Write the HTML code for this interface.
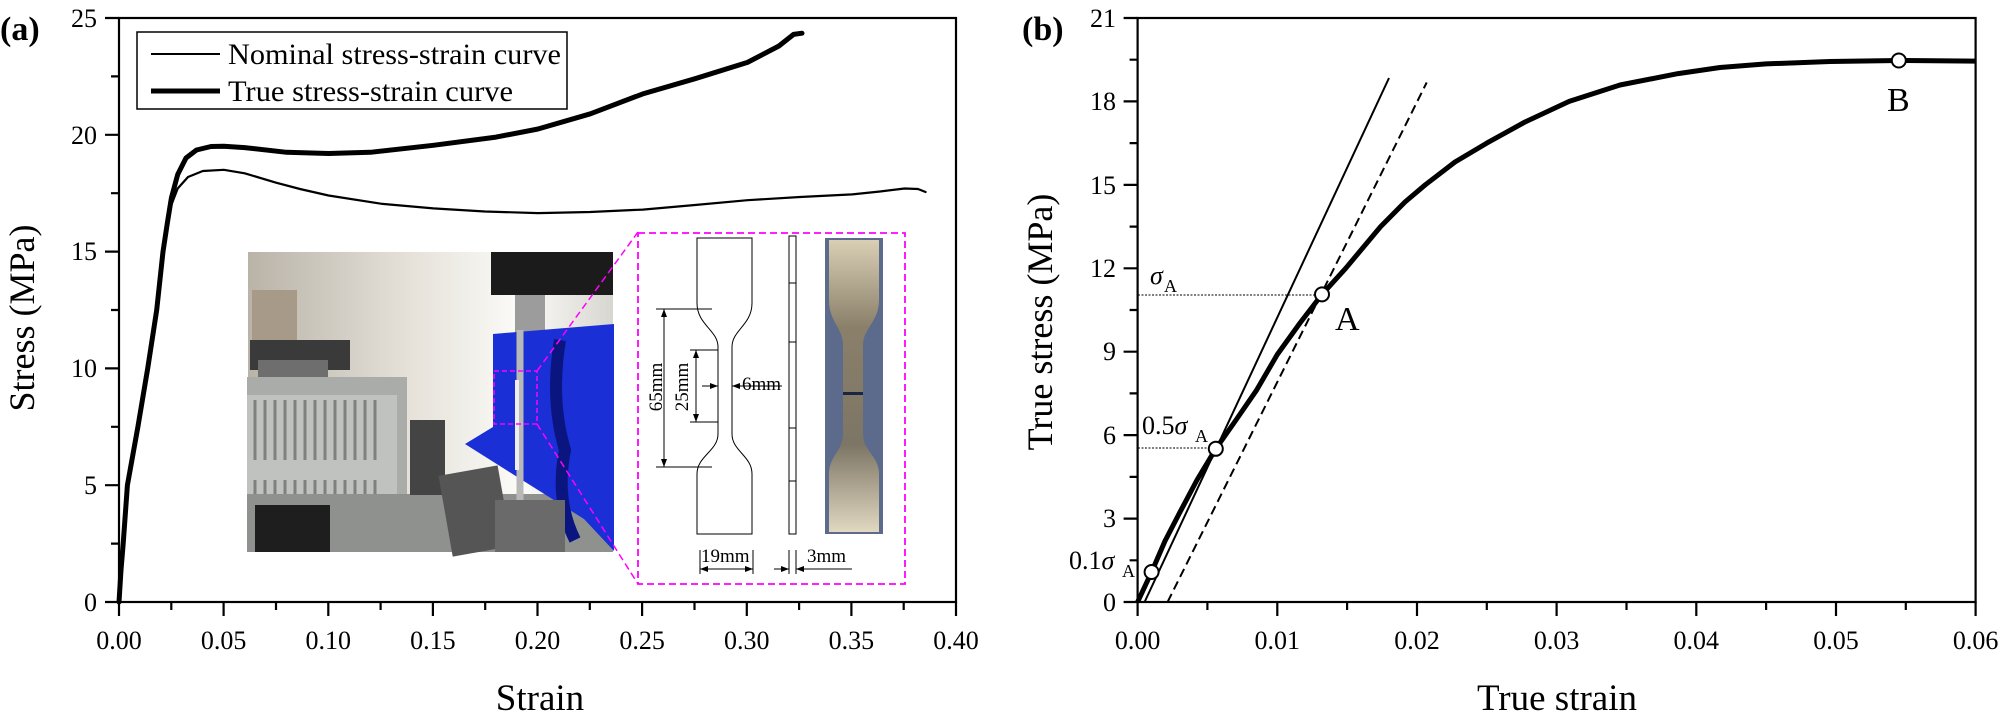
<!DOCTYPE html>
<html><head><meta charset="utf-8"><style>
html,body{margin:0;padding:0;background:#fff}
svg{display:block}
text{font-family:"Liberation Serif",serif;fill:#000}
</style></head><body>
<svg width="2001" height="722" viewBox="0 0 2001 722" xmlns="http://www.w3.org/2000/svg">
<defs>
<linearGradient id="wall" x1="0" y1="0" x2="1" y2="0">
<stop offset="0" stop-color="#b9b3a8"/><stop offset="0.45" stop-color="#e6e2da"/><stop offset="0.75" stop-color="#fbfbf8"/><stop offset="1" stop-color="#d8d6d0"/></linearGradient>
<linearGradient id="spec" x1="0" y1="0" x2="0" y2="1">
<stop offset="0" stop-color="#d8cfb5"/><stop offset="0.3" stop-color="#8a806a"/><stop offset="0.7" stop-color="#7d7565"/><stop offset="1" stop-color="#e0d8c0"/></linearGradient>
</defs>

<!-- ============ PANEL A ============ -->
<text x="0" y="40" font-size="34" font-weight="bold">(a)</text>
<g>
<rect x="248" y="252" width="365" height="300" fill="url(#wall)"/>
<rect x="252" y="290" width="45" height="60" fill="#a89a88"/>
<rect x="250" y="340" width="100" height="30" fill="#3a3a3a"/>
<rect x="258" y="360" width="70" height="20" fill="#6e6e6e"/>
<rect x="247" y="377" width="160" height="175" fill="#a9aca9"/>
<rect x="247" y="395" width="150" height="130" fill="#bfc2bf"/>
<g stroke="#7e817e" stroke-width="3">
<path d="M255 400v60M265 400v60M275 400v60M285 400v60M295 400v60M305 400v60M315 400v60M325 400v60M335 400v60M345 400v60M355 400v60M365 400v60M375 400v60"/>
<path d="M255 480v40M265 480v40M275 480v40M285 480v40M295 480v40M305 480v40M315 480v40M325 480v40M335 480v40M345 480v40M355 480v40M365 480v40M375 480v40"/>
</g>
<rect x="247" y="494" width="366" height="58" fill="#8f918f"/>
<rect x="255" y="505" width="75" height="47" fill="#1e1e1e"/>
<rect x="410" y="420" width="35" height="75" fill="#444"/>
<rect x="445" y="470" width="60" height="82" fill="#555" transform="rotate(-10 475 510)"/>
<rect x="491" y="252" width="122" height="43" fill="#1b1b1b"/>
<rect x="515" y="295" width="30" height="40" fill="#9c9c9c"/>
<polygon points="493,334 614,324 614,551 584,519 465,444 493,427" fill="#1a2fd6"/>
<path d="M560 340 Q550 400 565 450 Q555 500 575 540" stroke="#0b1580" stroke-width="12" fill="none"/>
<path d="M520 330 L520 550" stroke="#b8b8b8" stroke-width="7"/>
<path d="M517 380 L517 470" stroke="#eee" stroke-width="4"/>
<rect x="495" y="500" width="70" height="52" fill="#6a6a6a"/>
<rect x="494" y="371" width="43" height="53" fill="none" stroke="#ff00ff" stroke-width="1.5" stroke-dasharray="5,3"/>
</g>
<path d="M537 371 L638 232 M537 424 L638 584" stroke="#ff00ff" stroke-width="1.5" stroke-dasharray="7,4" fill="none"/>
<rect x="638" y="233" width="267" height="351" fill="#fff" stroke="#ff00ff" stroke-width="1.8" stroke-dasharray="7,4"/>
<path d="M697 238 H752 V303 C752 325 732 330 732 347 V434 C732 451 752 456 752 474 V534 H697 V474 C697 456 718 451 718 434 V347 C718 330 697 325 697 303 Z" fill="none" stroke="#000" stroke-width="1"/>
<rect x="789" y="236" width="7" height="298" fill="none" stroke="#000" stroke-width="1"/>
<path d="M789 283h7M789 342h7M789 428h7M789 481h7" stroke="#000" stroke-width="1"/>
<rect x="825" y="238" width="58" height="296" fill="#5c6a8c"/>
<path d="M829 240 H879 V300 C879 322 863 328 863 345 V434 C863 451 879 456 879 474 V532 H829 V474 C829 456 843 451 843 434 V345 C843 328 829 322 829 300 Z" fill="url(#spec)"/>
<rect x="843" y="392" width="20" height="3" fill="#1b2440"/>
<g stroke="#000" stroke-width="1" fill="none">
<path d="M664 309 V467 M656 309 H712 M656 467 H712"/>
<path d="M696 350 V422 M690 350 H718 M690 422 H718"/>
<path d="M702 386 H718 M732 386 H782"/>
<path d="M700 550 V574 M753 550 V574 M700 569 H753"/>
<path d="M789 550 V574 M796 550 V574 M774 569 H789 M796 569 H852"/>
</g>
<g fill="#000">
<path d="M664 309 l-3 8 h6z M664 467 l-3 -8 h6z M696 350 l-3 8 h6z M696 422 l-3 -8 h6z M718 386 l-8 -3 v6z M732 386 l8 -3 v6z M700 569 l8 -3 v6z M753 569 l-8 -3 v6z M789 569 l-8 -3 v6z M796 569 l8 -3 v6z"/>
</g>
<text font-size="19" transform="translate(662 387) rotate(-90)" text-anchor="middle">65mm</text>
<text font-size="19" transform="translate(688 387) rotate(-90)" text-anchor="middle">25mm</text>
<text x="742" y="390" font-size="19">6mm</text>
<text x="701" y="562" font-size="19">19mm</text>
<text x="807" y="562" font-size="19">3mm</text>

<g fill="none" stroke="#000" stroke-linejoin="round" stroke-linecap="round">
<polyline stroke-width="2.2" points="119,602 121,570 123.2,543.6 127.4,485.2 137.9,426.8 147.7,368.4 156.7,310 163,251.6 167.5,225 171.4,204.9 177.7,188.5 188,177 202.8,171 223.8,169.8 244.7,173.3 276.1,182.7 300,189 328.5,195.5 380.9,203.7 433.3,208.4 485,211.5 538,213.1 590,212 642.8,209.6 695,205 747.5,200.2 800,197 852.3,194.4 880,191.5 904.6,188.5 918,189 925.6,192"/>
<polyline stroke-width="5" points="119,602 121,570 123.2,543.6 127.4,485.2 137.9,426.8 147.7,368.4 156.7,310 163,251.6 167.5,222 171.4,197.9 177.7,174.5 186,158 196.5,150 211,146.5 223.8,146.3 244.7,147.6 286.6,152.3 328.5,153.5 370.4,152.3 433.3,145.3 496.1,137.1 538,129 590.4,113.8 642.8,93.9 695.1,78.7 747.5,62.4 778.9,46 793.6,34.4 802,33.2"/>
</g>
<rect x="137" y="32" width="430" height="77" fill="#fff" stroke="#000" stroke-width="1.5"/>
<line x1="151" y1="54" x2="220" y2="54" stroke="#000" stroke-width="2"/>
<line x1="151" y1="91" x2="220" y2="91" stroke="#000" stroke-width="5"/>
<text x="228" y="64" font-size="30" textLength="333" lengthAdjust="spacingAndGlyphs">Nominal stress-strain curve</text>
<text x="228" y="101" font-size="30" textLength="285" lengthAdjust="spacingAndGlyphs">True stress-strain curve</text>
<rect x="119" y="18" width="837" height="584" fill="none" stroke="#000" stroke-width="2.2"/>
<g stroke="#000" stroke-width="2.2" fill="none">
<path d="M119 602v14M223.6 602v14M328.3 602v14M432.9 602v14M537.5 602v14M642.1 602v14M746.8 602v14M851.4 602v14M956 602v14"/>
<path d="M171.3 602v8M276 602v8M380.6 602v8M485.2 602v8M589.8 602v8M694.5 602v8M799.1 602v8M903.7 602v8"/>
<path d="M119 602h-14M119 485.2h-14M119 368.4h-14M119 251.6h-14M119 134.8h-14M119 18h-14"/>
<path d="M119 543.6h-8M119 426.8h-8M119 310h-8M119 193.2h-8M119 76.4h-8"/>
</g>
<g font-size="26" text-anchor="middle">
<text x="119" y="649">0.00</text><text x="223.6" y="649">0.05</text><text x="328.3" y="649">0.10</text><text x="432.9" y="649">0.15</text><text x="537.5" y="649">0.20</text><text x="642.1" y="649">0.25</text><text x="746.8" y="649">0.30</text><text x="851.4" y="649">0.35</text><text x="956" y="649">0.40</text>
</g>
<g font-size="26" text-anchor="end">
<text x="97" y="611">0</text><text x="97" y="494">5</text><text x="97" y="377">10</text><text x="97" y="260">15</text><text x="97" y="144">20</text><text x="97" y="27">25</text>
</g>
<text x="540" y="710" font-size="37" text-anchor="middle">Strain</text>
<text transform="translate(34 318) rotate(-90)" font-size="36" text-anchor="middle">Stress (MPa)</text>

<!-- ============ PANEL B ============ -->
<text x="1022" y="40" font-size="34" font-weight="bold">(b)</text>
<g stroke="#000" stroke-width="1" stroke-dasharray="2,1.5">
<line x1="1138" y1="295" x2="1322" y2="295"/>
<line x1="1138" y1="448" x2="1215" y2="448"/>
</g>
<line x1="1144.6" y1="602" x2="1389" y2="78" stroke="#000" stroke-width="2"/>
<line x1="1167.6" y1="602" x2="1426.7" y2="82.5" stroke="#000" stroke-width="2" stroke-dasharray="9,5"/>
<polyline fill="none" stroke="#000" stroke-width="5" stroke-linejoin="round" points="1137.6,602 1151.6,572 1165,541 1179.5,513 1197,480 1215.8,448.8 1236,420 1256.3,390.6 1277.3,354.5 1300,323 1322,294.4 1345.7,268.3 1380.6,226.6 1405,202 1425.3,184.8 1455,162 1486.8,143.1 1525,122 1569.2,101.4 1620,85 1678.1,73.6 1720,67.5 1766.1,63.9 1830,61.5 1898.8,60.5 1975.6,61.1"/>
<g fill="#fff" stroke="#000" stroke-width="2">
<circle cx="1151.6" cy="572" r="7"/><circle cx="1215.8" cy="448.8" r="7"/><circle cx="1322" cy="294.4" r="7"/><circle cx="1898.8" cy="60.5" r="7"/>
</g>
<text x="1335" y="330" font-size="34">A</text>
<text x="1887" y="111" font-size="34">B</text>
<text x="1150" y="284" font-size="26" font-style="italic">σ</text><text x="1164" y="292" font-size="18">A</text>
<text x="1142" y="434" font-size="26">0.5<tspan font-style="italic">σ</tspan></text><text x="1195" y="442" font-size="18">A</text>
<text x="1069" y="569" font-size="26">0.1<tspan font-style="italic">σ</tspan></text><text x="1122" y="577" font-size="18">A</text>
<rect x="1137.6" y="18" width="838" height="584" fill="none" stroke="#000" stroke-width="2.2"/>
<g stroke="#000" stroke-width="2.2" fill="none">
<path d="M1137.6 602v14M1277.3 602v14M1417 602v14M1556.6 602v14M1696.3 602v14M1836 602v14M1975.6 602v14"/>
<path d="M1207.4 602v8M1347.1 602v8M1486.8 602v8M1626.5 602v8M1766.1 602v8M1905.8 602v8"/>
<path d="M1137.6 602h-14M1137.6 518.6h-14M1137.6 435.1h-14M1137.6 351.7h-14M1137.6 268.3h-14M1137.6 184.9h-14M1137.6 101.4h-14M1137.6 18h-14"/>
<path d="M1137.6 560.3h-8M1137.6 476.9h-8M1137.6 393.4h-8M1137.6 310h-8M1137.6 226.6h-8M1137.6 143.1h-8M1137.6 59.7h-8"/>
</g>
<g font-size="26" text-anchor="middle">
<text x="1137.6" y="649">0.00</text><text x="1277.3" y="649">0.01</text><text x="1417" y="649">0.02</text><text x="1556.6" y="649">0.03</text><text x="1696.3" y="649">0.04</text><text x="1836" y="649">0.05</text><text x="1975.6" y="649">0.06</text>
</g>
<g font-size="26" text-anchor="end">
<text x="1116" y="611">0</text><text x="1116" y="527">3</text><text x="1116" y="444">6</text><text x="1116" y="360">9</text><text x="1116" y="277">12</text><text x="1116" y="194">15</text><text x="1116" y="110">18</text><text x="1116" y="27">21</text>
</g>
<text x="1557" y="710" font-size="37" text-anchor="middle">True strain</text>
<text transform="translate(1052 322) rotate(-90)" font-size="36" text-anchor="middle">True stress (MPa)</text>
</svg>
</body></html>
